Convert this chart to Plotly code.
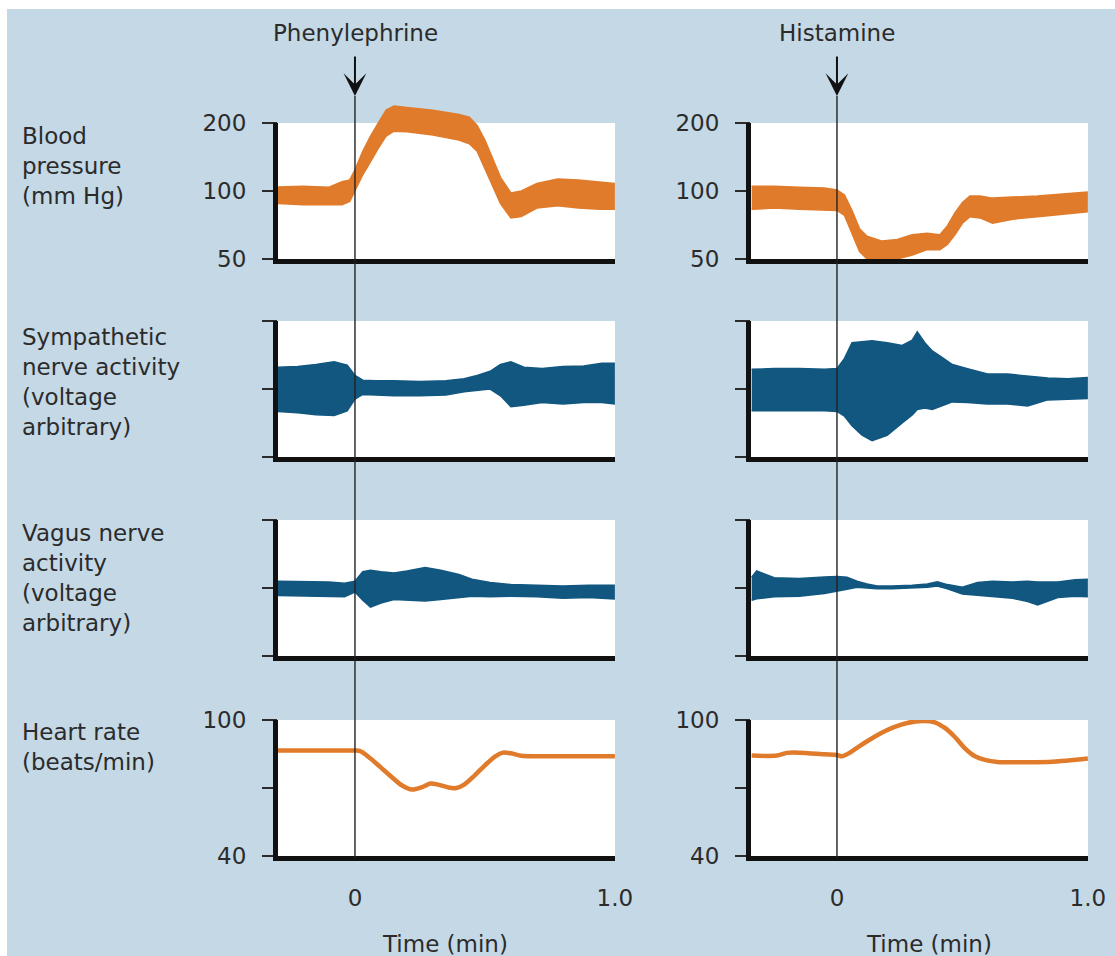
import math
import plotly.graph_objects as go

# ---------------- data (time in min, relative to drug injection) ----------------
# Phenylephrine column
phe_bp_t = [-0.30, -0.20, -0.10, -0.05, -0.02, 0.00, 0.03, 0.06, 0.09, 0.12, 0.15, 0.20, 0.30,
            0.40, 0.44, 0.47, 0.50, 0.53, 0.56, 0.60, 0.64, 0.70, 0.78, 0.86, 0.94, 1.00]
phe_bp_hi = [104, 105, 104, 110, 112, 124, 150, 175, 200, 228, 238, 234, 228,
             218, 212, 195, 168, 140, 115, 98, 100, 108, 113, 112, 110, 108]
phe_bp_lo = [88, 87, 87, 87, 90, 100, 118, 135, 155, 175, 184, 183, 177,
             168, 162, 150, 125, 105, 88, 76, 77, 84, 86, 84, 83, 83]

phe_sna_t = [-0.30, -0.22, -0.15, -0.08, -0.03, 0.00, 0.03, 0.08, 0.15, 0.25, 0.35, 0.42, 0.47,
             0.52, 0.56, 0.60, 0.65, 0.72, 0.80, 0.88, 0.95, 1.00]
phe_sna_hi = [0.32, 0.33, 0.36, 0.40, 0.35, 0.20, 0.13, 0.12, 0.12, 0.11, 0.12, 0.15, 0.20,
              0.26, 0.36, 0.40, 0.32, 0.30, 0.33, 0.34, 0.38, 0.38]
phe_sna_lo = [-0.33, -0.35, -0.38, -0.39, -0.32, -0.15, -0.08, -0.09, -0.10, -0.10, -0.09, -0.04, -0.02,
              0.00, -0.10, -0.26, -0.24, -0.20, -0.22, -0.20, -0.20, -0.22]

phe_vag_t = [-0.30, -0.20, -0.10, -0.04, 0.00, 0.03, 0.06, 0.10, 0.15, 0.20, 0.27, 0.33, 0.40,
             0.45, 0.52, 0.60, 0.70, 0.80, 0.90, 1.00]
phe_vag_hi = [0.10, 0.10, 0.09, 0.07, 0.10, 0.24, 0.26, 0.24, 0.22, 0.25, 0.30, 0.26, 0.20,
              0.13, 0.08, 0.05, 0.04, 0.03, 0.04, 0.04]
phe_vag_lo = [-0.11, -0.12, -0.12, -0.13, -0.06, -0.18, -0.28, -0.22, -0.17, -0.18, -0.19, -0.17, -0.14,
              -0.12, -0.13, -0.12, -0.13, -0.15, -0.14, -0.16]

phe_hr_t = [-0.30, -0.10, 0.00, 0.02, 0.06, 0.10, 0.14, 0.18, 0.22, 0.26, 0.29, 0.32, 0.36,
            0.39, 0.42, 0.46, 0.50, 0.54, 0.57, 0.60, 0.64, 0.70, 0.85, 1.00]
phe_hr = [86.5, 86.5, 86.5, 86.3, 83.0, 79.0, 75.0, 71.2, 69.3, 70.5, 72.0, 71.5, 70.2,
          70.0, 71.5, 75.5, 80.0, 84.0, 85.6, 85.3, 84.2, 84.0, 84.0, 84.0]

# Histamine column
his_bp_t = [-0.34, -0.25, -0.15, -0.05, 0.00, 0.03, 0.06, 0.09, 0.12, 0.18, 0.24, 0.30, 0.36,
            0.41, 0.44, 0.47, 0.50, 0.53, 0.57, 0.62, 0.70, 0.80, 0.90, 1.00]
his_bp_hi = [105, 105, 104, 103, 101, 96, 82, 68, 63, 60, 61, 64, 65,
             64, 70, 80, 89, 95, 95, 93, 94, 95, 97, 99]
his_bp_lo = [83, 84, 83, 82, 82, 78, 65, 54, 50, 50, 50, 52, 55,
             55, 58, 64, 72, 77, 76, 72, 75, 77, 79, 81]

his_sna_t = [-0.34, -0.25, -0.15, -0.05, 0.00, 0.03, 0.06, 0.10, 0.14, 0.20, 0.26, 0.30, 0.32,
             0.35, 0.38, 0.42, 0.46, 0.52, 0.60, 0.68, 0.76, 0.84, 0.92, 1.00]
his_sna_hi = [0.29, 0.30, 0.30, 0.29, 0.30, 0.45, 0.68, 0.70, 0.71, 0.68, 0.64, 0.72, 0.84,
              0.68, 0.56, 0.46, 0.36, 0.30, 0.22, 0.22, 0.19, 0.16, 0.15, 0.17]
his_sna_lo = [-0.32, -0.32, -0.31, -0.32, -0.33, -0.40, -0.54, -0.68, -0.76, -0.68, -0.50, -0.38, -0.30,
              -0.28, -0.30, -0.25, -0.19, -0.20, -0.22, -0.22, -0.25, -0.16, -0.15, -0.14]

his_vag_t = [-0.34, -0.32, -0.25, -0.15, -0.05, 0.00, 0.04, 0.08, 0.12, 0.16, 0.22, 0.30, 0.36,
             0.40, 0.44, 0.50, 0.56, 0.62, 0.70, 0.76, 0.80, 0.88, 0.95, 1.00]
his_vag_hi = [0.16, 0.25, 0.15, 0.14, 0.16, 0.17, 0.16, 0.10, 0.06, 0.03, 0.03, 0.04, 0.06,
              0.09, 0.05, 0.01, 0.08, 0.10, 0.09, 0.10, 0.09, 0.09, 0.12, 0.13]
his_vag_lo = [-0.18, -0.16, -0.13, -0.12, -0.08, -0.05, -0.02, 0.01, 0.00, -0.01, -0.01, 0.00, 0.01,
              0.03, -0.01, -0.09, -0.11, -0.13, -0.15, -0.20, -0.25, -0.14, -0.12, -0.13]

his_hr_t = [-0.34, -0.24, -0.20, -0.15, -0.05, 0.00, 0.02, 0.05, 0.09, 0.13, 0.18, 0.23, 0.28,
            0.34, 0.39, 0.43, 0.47, 0.51, 0.55, 0.59, 0.64, 0.75, 0.86, 1.00]
his_hr = [84.3, 84.3, 85.5, 85.6, 84.9, 84.6, 84.0, 85.5, 88.5, 91.3, 94.5, 97.0, 98.7,
          99.6, 99.0, 96.5, 92.5, 87.5, 84.0, 82.4, 81.5, 81.4, 81.6, 83.0]

drug_names = {"phe": "Phenylephrine", "his": "Histamine"}
row_labels = {
    "bp": "Blood<br>pressure<br>(mm Hg)",
    "sna": "Sympathetic<br>nerve activity<br>(voltage<br>arbitrary)",
    "vag": "Vagus nerve<br>activity<br>(voltage<br>arbitrary)",
    "hr": "Heart rate<br>(beats/min)",
}
bp_ticks = [50, 100, 200]
hr_ticks = [40, 70, 100]
hr_ticktext = ["40", "", "100"]
time_ticks = [0, 1.0]
time_ticktext = ["0", "1.0"]

# ---------------- styling / geometry ----------------
W, H = 1115, 956
ORANGE = "#e07b2b"
BLUE = "#115780"
BG = "#c4d8e6"
INK = "#2b2b2b"
FONT = "DejaVu Sans"
FS = 23          # tick labels
FS_LABEL = 23    # row labels, drug names, axis titles

COLS = {"phe": (278, 615), "his": (751, 1088)}      # plot area left/right (px)
ZERO_X = {"phe": 355, "his": 837}                   # pixel of t = 0
ROWS = {"bp": (123, 259), "sna": (321, 457), "vag": (520, 656), "hr": (720, 856)}
BP_CLIP_TOP = 101                                   # BP trace may overshoot above 200
AXW = 5                                             # axis line width


def fx(x):
    return x / W


def fy(y):
    return 1 - y / H


fig = go.Figure()
layout = dict(
    width=W, height=H, margin=dict(l=0, r=0, t=0, b=0, pad=0, autoexpand=False),
    paper_bgcolor="white", plot_bgcolor="rgba(0,0,0,0)",
    showlegend=False, hovermode=False,
    font=dict(family=FONT, size=FS, color=INK),
)
shapes = [dict(type="rect", xref="paper", yref="paper", x0=fx(7), x1=1, y0=0, y1=fy(9),
               fillcolor=BG, line=dict(width=0), layer="below")]
annotations = []

series = {
    ("phe", "bp"): (phe_bp_t, phe_bp_lo, phe_bp_hi, ORANGE),
    ("his", "bp"): (his_bp_t, his_bp_lo, his_bp_hi, ORANGE),
    ("phe", "sna"): (phe_sna_t, phe_sna_lo, phe_sna_hi, BLUE),
    ("his", "sna"): (his_sna_t, his_sna_lo, his_sna_hi, BLUE),
    ("phe", "vag"): (phe_vag_t, phe_vag_lo, phe_vag_hi, BLUE),
    ("his", "vag"): (his_vag_t, his_vag_lo, his_vag_hi, BLUE),
    ("phe", "hr"): (phe_hr_t, phe_hr, None, ORANGE),
    ("his", "hr"): (his_hr_t, his_hr, None, ORANGE),
}

idx = 0
axis_of = {}
for row in ["bp", "sna", "vag", "hr"]:
    for col in ["phe", "his"]:
        idx += 1
        axis_of[(col, row)] = idx
        x0, x1 = COLS[col]
        top, bot = ROWS[row]
        z = ZERO_X[col]
        t_left = (x0 - z) / (x1 - z)
        xa = dict(domain=[fx(x0), fx(x1)], range=[t_left, 1.0005], anchor=f"y{idx}",
                  showgrid=False, zeroline=False, showline=False, ticks="",
                  showticklabels=False, fixedrange=True, automargin=False)
        if row == "hr":
            # invisible tick marks set the gap between the heavy axis line and the time labels
            xa.update(showticklabels=True, tickmode="array", tickvals=time_ticks,
                      ticktext=time_ticktext, ticks="outside", ticklen=2,
                      tickcolor="rgba(0,0,0,0)", ticklabelstandoff=19,
                      tickfont=dict(family=FONT, size=FS, color=INK))
        ya = dict(anchor=f"x{idx}", showgrid=False, zeroline=False, showline=False,
                  ticks="outside", ticklen=15, tickwidth=1.5, tickcolor=INK,
                  tickfont=dict(family=FONT, size=FS, color=INK),
                  ticklabelstandoff=11, fixedrange=True, automargin=False)
        if row == "bp":
            lo_log = math.log10(50)
            per_px = math.log10(200 / 50) / (bot - top)
            ya.update(type="log", domain=[fy(bot), fy(BP_CLIP_TOP)],
                      range=[lo_log, lo_log + per_px * (bot - BP_CLIP_TOP)],
                      tickmode="array", tickvals=bp_ticks, ticktext=[str(v) for v in bp_ticks])
        elif row == "hr":
            ya.update(domain=[fy(bot), fy(top)], range=[40, 100], tickmode="array",
                      tickvals=hr_ticks, ticktext=hr_ticktext)
        else:
            ya.update(domain=[fy(bot), fy(top)], range=[-1, 1], tickmode="array",
                      tickvals=[-1, 0, 1], showticklabels=False)
        layout[f"xaxis{idx}"] = xa
        layout[f"yaxis{idx}"] = ya

        # white plotting panel
        shapes.append(dict(type="rect", xref="paper", yref="paper", x0=fx(x0), x1=fx(x1),
                           y0=fy(bot), y1=fy(top), fillcolor="white", line=dict(width=0),
                           layer="below"))
        # heavy L-shaped axes
        shapes.append(dict(type="line", xref="paper", yref="paper",
                           x0=fx(x0 - AXW / 2), x1=fx(x0 - AXW / 2), y0=fy(top), y1=fy(bot + AXW),
                           line=dict(color="#111111", width=AXW), layer="above"))
        shapes.append(dict(type="line", xref="paper", yref="paper",
                           x0=fx(x0 - AXW), x1=fx(x1), y0=fy(bot + AXW / 2), y1=fy(bot + AXW / 2),
                           line=dict(color="#111111", width=AXW), layer="above"))

        t, a, b, colr = series[(col, row)]
        if b is None:
            fig.add_trace(go.Scatter(x=t, y=a, mode="lines", xaxis=f"x{idx}", yaxis=f"y{idx}",
                                     line=dict(color=colr, width=4.5, shape="spline", smoothing=0.8)))
        else:
            fig.add_trace(go.Scatter(x=t, y=a, mode="lines", xaxis=f"x{idx}", yaxis=f"y{idx}",
                                     line=dict(color=colr, width=1.5)))
            fig.add_trace(go.Scatter(x=t, y=b, mode="lines", xaxis=f"x{idx}", yaxis=f"y{idx}",
                                     fill="tonexty", fillcolor=colr,
                                     line=dict(color=colr, width=1.5)))

# injection markers: label, arrow and vertical line through all panels
for col in ["phe", "his"]:
    top_ax = axis_of[(col, "bp")]
    hr_ax = axis_of[(col, "hr")]
    annotations.append(dict(text=drug_names[col], x=fx(ZERO_X[col]), y=fy(33),
                            xref="paper", yref="paper", xanchor="center", yanchor="middle",
                            showarrow=False, font=dict(family=FONT, size=FS_LABEL, color=INK)))
    annotations.append(dict(text="", x=0, xref=f"x{top_ax}", y=fy(96), yref="paper",
                            showarrow=True, ax=0, ay=-41, arrowhead=3, arrowsize=1.9,
                            arrowwidth=2, arrowcolor="#111111"))
    shapes.append(dict(type="line", xref=f"x{hr_ax}", yref="paper", x0=0, x1=0,
                       y0=fy(858), y1=fy(96), line=dict(color="#222222", width=1.4),
                       layer="above"))

# row labels
label_y = {"bp": 166, "sna": 382, "vag": 578, "hr": 747}
for row, txt in row_labels.items():
    annotations.append(dict(text=txt, x=fx(20), y=fy(label_y[row]), xref="paper", yref="paper",
                            xanchor="left", yanchor="middle", align="left", showarrow=False,
                            font=dict(family=FONT, size=FS_LABEL, color=INK)))

# time axis titles
for xc in [445, 929]:
    annotations.append(dict(text="Time (min)", x=fx(xc), y=fy(944), xref="paper", yref="paper",
                            xanchor="center", yanchor="middle", showarrow=False,
                            font=dict(family=FONT, size=FS_LABEL, color=INK)))

layout["shapes"] = shapes
layout["annotations"] = annotations
fig.update_layout(**layout)
fig.write_html("out.html")
